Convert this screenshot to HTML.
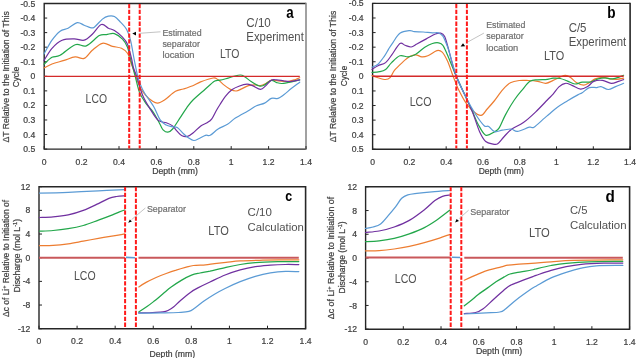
<!DOCTYPE html>
<html><head><meta charset="utf-8"><style>html,body{margin:0;padding:0;background:#fff;}svg{display:block;filter:blur(0.3px);}</style></head>
<body><svg width="637" height="358" viewBox="0 0 637 358" font-family='"Liberation Sans", sans-serif'>
<rect width="637" height="358" fill="#fff"/>
<path d="M306.0,149.1 H44.2 V3.5 H306.0" fill="none" stroke="#262626" stroke-width="1.4"/>
<line x1="306.0" y1="2.8" x2="306.0" y2="149.79999999999998" stroke="#8a8a8a" stroke-width="1.6"/>
<line x1="44.2" y1="149.1" x2="44.2" y2="146.1" stroke="#262626" stroke-width="1"/>
<line x1="81.6" y1="149.1" x2="81.6" y2="146.1" stroke="#262626" stroke-width="1"/>
<line x1="119.0" y1="149.1" x2="119.0" y2="146.1" stroke="#262626" stroke-width="1"/>
<line x1="156.40000000000003" y1="149.1" x2="156.40000000000003" y2="146.1" stroke="#262626" stroke-width="1"/>
<line x1="193.8" y1="149.1" x2="193.8" y2="146.1" stroke="#262626" stroke-width="1"/>
<line x1="231.2" y1="149.1" x2="231.2" y2="146.1" stroke="#262626" stroke-width="1"/>
<line x1="268.6" y1="149.1" x2="268.6" y2="146.1" stroke="#262626" stroke-width="1"/>
<line x1="306.0" y1="149.1" x2="306.0" y2="146.1" stroke="#262626" stroke-width="1"/>
<line x1="44.2" y1="3.5" x2="47.2" y2="3.5" stroke="#262626" stroke-width="1"/>
<line x1="44.2" y1="18.06" x2="47.2" y2="18.06" stroke="#262626" stroke-width="1"/>
<line x1="44.2" y1="32.62" x2="47.2" y2="32.62" stroke="#262626" stroke-width="1"/>
<line x1="44.2" y1="47.17999999999999" x2="47.2" y2="47.17999999999999" stroke="#262626" stroke-width="1"/>
<line x1="44.2" y1="61.739999999999995" x2="47.2" y2="61.739999999999995" stroke="#262626" stroke-width="1"/>
<line x1="44.2" y1="76.3" x2="47.2" y2="76.3" stroke="#262626" stroke-width="1"/>
<line x1="44.2" y1="90.85999999999999" x2="47.2" y2="90.85999999999999" stroke="#262626" stroke-width="1"/>
<line x1="44.2" y1="105.41999999999999" x2="47.2" y2="105.41999999999999" stroke="#262626" stroke-width="1"/>
<line x1="44.2" y1="119.97999999999999" x2="47.2" y2="119.97999999999999" stroke="#262626" stroke-width="1"/>
<line x1="44.2" y1="134.54" x2="47.2" y2="134.54" stroke="#262626" stroke-width="1"/>
<line x1="44.2" y1="149.1" x2="47.2" y2="149.1" stroke="#262626" stroke-width="1"/>
<path d="M630.1,149.3 H372.6 V3.4 H630.1" fill="none" stroke="#262626" stroke-width="1.4"/>
<line x1="630.1" y1="2.7" x2="630.1" y2="150.0" stroke="#262626" stroke-width="1.6"/>
<line x1="372.6" y1="149.3" x2="372.6" y2="146.3" stroke="#262626" stroke-width="1"/>
<line x1="409.3857142857143" y1="149.3" x2="409.3857142857143" y2="146.3" stroke="#262626" stroke-width="1"/>
<line x1="446.1714285714286" y1="149.3" x2="446.1714285714286" y2="146.3" stroke="#262626" stroke-width="1"/>
<line x1="482.9571428571429" y1="149.3" x2="482.9571428571429" y2="146.3" stroke="#262626" stroke-width="1"/>
<line x1="519.7428571428571" y1="149.3" x2="519.7428571428571" y2="146.3" stroke="#262626" stroke-width="1"/>
<line x1="556.5285714285715" y1="149.3" x2="556.5285714285715" y2="146.3" stroke="#262626" stroke-width="1"/>
<line x1="593.3142857142857" y1="149.3" x2="593.3142857142857" y2="146.3" stroke="#262626" stroke-width="1"/>
<line x1="630.1" y1="149.3" x2="630.1" y2="146.3" stroke="#262626" stroke-width="1"/>
<line x1="372.6" y1="3.4" x2="375.6" y2="3.4" stroke="#262626" stroke-width="1"/>
<line x1="372.6" y1="17.99" x2="375.6" y2="17.99" stroke="#262626" stroke-width="1"/>
<line x1="372.6" y1="32.58" x2="375.6" y2="32.58" stroke="#262626" stroke-width="1"/>
<line x1="372.6" y1="47.17" x2="375.6" y2="47.17" stroke="#262626" stroke-width="1"/>
<line x1="372.6" y1="61.76" x2="375.6" y2="61.76" stroke="#262626" stroke-width="1"/>
<line x1="372.6" y1="76.35000000000001" x2="375.6" y2="76.35000000000001" stroke="#262626" stroke-width="1"/>
<line x1="372.6" y1="90.94000000000001" x2="375.6" y2="90.94000000000001" stroke="#262626" stroke-width="1"/>
<line x1="372.6" y1="105.53000000000002" x2="375.6" y2="105.53000000000002" stroke="#262626" stroke-width="1"/>
<line x1="372.6" y1="120.12" x2="375.6" y2="120.12" stroke="#262626" stroke-width="1"/>
<line x1="372.6" y1="134.71" x2="375.6" y2="134.71" stroke="#262626" stroke-width="1"/>
<line x1="372.6" y1="149.3" x2="375.6" y2="149.3" stroke="#262626" stroke-width="1"/>
<path d="M305.6,328.7 H39.0 V186.7 H305.6" fill="none" stroke="#262626" stroke-width="1.4"/>
<line x1="305.6" y1="186.0" x2="305.6" y2="329.4" stroke="#262626" stroke-width="1.6"/>
<line x1="39.0" y1="328.7" x2="39.0" y2="325.7" stroke="#262626" stroke-width="1"/>
<line x1="77.08571428571429" y1="328.7" x2="77.08571428571429" y2="325.7" stroke="#262626" stroke-width="1"/>
<line x1="115.17142857142858" y1="328.7" x2="115.17142857142858" y2="325.7" stroke="#262626" stroke-width="1"/>
<line x1="153.25714285714287" y1="328.7" x2="153.25714285714287" y2="325.7" stroke="#262626" stroke-width="1"/>
<line x1="191.34285714285716" y1="328.7" x2="191.34285714285716" y2="325.7" stroke="#262626" stroke-width="1"/>
<line x1="229.42857142857142" y1="328.7" x2="229.42857142857142" y2="325.7" stroke="#262626" stroke-width="1"/>
<line x1="267.51428571428573" y1="328.7" x2="267.51428571428573" y2="325.7" stroke="#262626" stroke-width="1"/>
<line x1="305.6" y1="328.7" x2="305.6" y2="325.7" stroke="#262626" stroke-width="1"/>
<line x1="39.0" y1="186.7" x2="42.0" y2="186.7" stroke="#262626" stroke-width="1"/>
<line x1="39.0" y1="210.36666666666665" x2="42.0" y2="210.36666666666665" stroke="#262626" stroke-width="1"/>
<line x1="39.0" y1="234.03333333333333" x2="42.0" y2="234.03333333333333" stroke="#262626" stroke-width="1"/>
<line x1="39.0" y1="257.7" x2="42.0" y2="257.7" stroke="#262626" stroke-width="1"/>
<line x1="39.0" y1="281.3666666666667" x2="42.0" y2="281.3666666666667" stroke="#262626" stroke-width="1"/>
<line x1="39.0" y1="305.0333333333333" x2="42.0" y2="305.0333333333333" stroke="#262626" stroke-width="1"/>
<line x1="39.0" y1="328.7" x2="42.0" y2="328.7" stroke="#262626" stroke-width="1"/>
<path d="M629.6,329.2 H365.6 V186.8 H629.6" fill="none" stroke="#262626" stroke-width="1.4"/>
<line x1="629.6" y1="186.10000000000002" x2="629.6" y2="329.9" stroke="#262626" stroke-width="1.6"/>
<line x1="365.6" y1="329.2" x2="365.6" y2="326.2" stroke="#262626" stroke-width="1"/>
<line x1="403.31428571428575" y1="329.2" x2="403.31428571428575" y2="326.2" stroke="#262626" stroke-width="1"/>
<line x1="441.02857142857147" y1="329.2" x2="441.02857142857147" y2="326.2" stroke="#262626" stroke-width="1"/>
<line x1="478.74285714285713" y1="329.2" x2="478.74285714285713" y2="326.2" stroke="#262626" stroke-width="1"/>
<line x1="516.4571428571429" y1="329.2" x2="516.4571428571429" y2="326.2" stroke="#262626" stroke-width="1"/>
<line x1="554.1714285714286" y1="329.2" x2="554.1714285714286" y2="326.2" stroke="#262626" stroke-width="1"/>
<line x1="591.8857142857144" y1="329.2" x2="591.8857142857144" y2="326.2" stroke="#262626" stroke-width="1"/>
<line x1="629.6" y1="329.2" x2="629.6" y2="326.2" stroke="#262626" stroke-width="1"/>
<line x1="365.6" y1="186.8" x2="368.6" y2="186.8" stroke="#262626" stroke-width="1"/>
<line x1="365.6" y1="210.53333333333333" x2="368.6" y2="210.53333333333333" stroke="#262626" stroke-width="1"/>
<line x1="365.6" y1="234.26666666666668" x2="368.6" y2="234.26666666666668" stroke="#262626" stroke-width="1"/>
<line x1="365.6" y1="258.0" x2="368.6" y2="258.0" stroke="#262626" stroke-width="1"/>
<line x1="365.6" y1="281.73333333333335" x2="368.6" y2="281.73333333333335" stroke="#262626" stroke-width="1"/>
<line x1="365.6" y1="305.46666666666664" x2="368.6" y2="305.46666666666664" stroke="#262626" stroke-width="1"/>
<line x1="365.6" y1="329.2" x2="368.6" y2="329.2" stroke="#262626" stroke-width="1"/>
<text x="44.2" y="164.6" font-size="8.6" fill="#3f3f3f" stroke="#3f3f3f" stroke-width="0.22" text-anchor="middle" font-weight="normal" >0</text>
<text x="81.6" y="164.6" font-size="8.6" fill="#3f3f3f" stroke="#3f3f3f" stroke-width="0.22" text-anchor="middle" font-weight="normal" >0.2</text>
<text x="119.0" y="164.6" font-size="8.6" fill="#3f3f3f" stroke="#3f3f3f" stroke-width="0.22" text-anchor="middle" font-weight="normal" >0.4</text>
<text x="156.4" y="164.6" font-size="8.6" fill="#3f3f3f" stroke="#3f3f3f" stroke-width="0.22" text-anchor="middle" font-weight="normal" >0.6</text>
<text x="193.8" y="164.6" font-size="8.6" fill="#3f3f3f" stroke="#3f3f3f" stroke-width="0.22" text-anchor="middle" font-weight="normal" >0.8</text>
<text x="231.2" y="164.6" font-size="8.6" fill="#3f3f3f" stroke="#3f3f3f" stroke-width="0.22" text-anchor="middle" font-weight="normal" >1</text>
<text x="268.6" y="164.6" font-size="8.6" fill="#3f3f3f" stroke="#3f3f3f" stroke-width="0.22" text-anchor="middle" font-weight="normal" >1.2</text>
<text x="306.0" y="164.6" font-size="8.6" fill="#3f3f3f" stroke="#3f3f3f" stroke-width="0.22" text-anchor="middle" font-weight="normal" >1.4</text>
<text x="35.2" y="6.5" font-size="8.6" fill="#3f3f3f" stroke="#3f3f3f" stroke-width="0.22" text-anchor="end" font-weight="normal" >-0.5</text>
<text x="35.2" y="21.1" font-size="8.6" fill="#3f3f3f" stroke="#3f3f3f" stroke-width="0.22" text-anchor="end" font-weight="normal" >-0.4</text>
<text x="35.2" y="35.6" font-size="8.6" fill="#3f3f3f" stroke="#3f3f3f" stroke-width="0.22" text-anchor="end" font-weight="normal" >-0.3</text>
<text x="35.2" y="50.2" font-size="8.6" fill="#3f3f3f" stroke="#3f3f3f" stroke-width="0.22" text-anchor="end" font-weight="normal" >-0.2</text>
<text x="35.2" y="64.7" font-size="8.6" fill="#3f3f3f" stroke="#3f3f3f" stroke-width="0.22" text-anchor="end" font-weight="normal" >-0.1</text>
<text x="35.2" y="79.3" font-size="8.6" fill="#3f3f3f" stroke="#3f3f3f" stroke-width="0.22" text-anchor="end" font-weight="normal" >0</text>
<text x="35.2" y="93.9" font-size="8.6" fill="#3f3f3f" stroke="#3f3f3f" stroke-width="0.22" text-anchor="end" font-weight="normal" >0.1</text>
<text x="35.2" y="108.4" font-size="8.6" fill="#3f3f3f" stroke="#3f3f3f" stroke-width="0.22" text-anchor="end" font-weight="normal" >0.2</text>
<text x="35.2" y="123.0" font-size="8.6" fill="#3f3f3f" stroke="#3f3f3f" stroke-width="0.22" text-anchor="end" font-weight="normal" >0.3</text>
<text x="35.2" y="137.5" font-size="8.6" fill="#3f3f3f" stroke="#3f3f3f" stroke-width="0.22" text-anchor="end" font-weight="normal" >0.4</text>
<text x="35.2" y="152.1" font-size="8.6" fill="#3f3f3f" stroke="#3f3f3f" stroke-width="0.22" text-anchor="end" font-weight="normal" >0.5</text>
<text x="372.6" y="164.9" font-size="8.6" fill="#3f3f3f" stroke="#3f3f3f" stroke-width="0.22" text-anchor="middle" font-weight="normal" >0</text>
<text x="409.4" y="164.9" font-size="8.6" fill="#3f3f3f" stroke="#3f3f3f" stroke-width="0.22" text-anchor="middle" font-weight="normal" >0.2</text>
<text x="446.2" y="164.9" font-size="8.6" fill="#3f3f3f" stroke="#3f3f3f" stroke-width="0.22" text-anchor="middle" font-weight="normal" >0.4</text>
<text x="483.0" y="164.9" font-size="8.6" fill="#3f3f3f" stroke="#3f3f3f" stroke-width="0.22" text-anchor="middle" font-weight="normal" >0.6</text>
<text x="519.7" y="164.9" font-size="8.6" fill="#3f3f3f" stroke="#3f3f3f" stroke-width="0.22" text-anchor="middle" font-weight="normal" >0.8</text>
<text x="556.5" y="164.9" font-size="8.6" fill="#3f3f3f" stroke="#3f3f3f" stroke-width="0.22" text-anchor="middle" font-weight="normal" >1</text>
<text x="593.3" y="164.9" font-size="8.6" fill="#3f3f3f" stroke="#3f3f3f" stroke-width="0.22" text-anchor="middle" font-weight="normal" >1.2</text>
<text x="630.1" y="164.9" font-size="8.6" fill="#3f3f3f" stroke="#3f3f3f" stroke-width="0.22" text-anchor="middle" font-weight="normal" >1.4</text>
<text x="363.6" y="6.4" font-size="8.6" fill="#3f3f3f" stroke="#3f3f3f" stroke-width="0.22" text-anchor="end" font-weight="normal" >-0.5</text>
<text x="363.6" y="21.0" font-size="8.6" fill="#3f3f3f" stroke="#3f3f3f" stroke-width="0.22" text-anchor="end" font-weight="normal" >-0.4</text>
<text x="363.6" y="35.6" font-size="8.6" fill="#3f3f3f" stroke="#3f3f3f" stroke-width="0.22" text-anchor="end" font-weight="normal" >-0.3</text>
<text x="363.6" y="50.2" font-size="8.6" fill="#3f3f3f" stroke="#3f3f3f" stroke-width="0.22" text-anchor="end" font-weight="normal" >-0.2</text>
<text x="363.6" y="64.8" font-size="8.6" fill="#3f3f3f" stroke="#3f3f3f" stroke-width="0.22" text-anchor="end" font-weight="normal" >-0.1</text>
<text x="363.6" y="79.4" font-size="8.6" fill="#3f3f3f" stroke="#3f3f3f" stroke-width="0.22" text-anchor="end" font-weight="normal" >0</text>
<text x="363.6" y="93.9" font-size="8.6" fill="#3f3f3f" stroke="#3f3f3f" stroke-width="0.22" text-anchor="end" font-weight="normal" >0.1</text>
<text x="363.6" y="108.5" font-size="8.6" fill="#3f3f3f" stroke="#3f3f3f" stroke-width="0.22" text-anchor="end" font-weight="normal" >0.2</text>
<text x="363.6" y="123.1" font-size="8.6" fill="#3f3f3f" stroke="#3f3f3f" stroke-width="0.22" text-anchor="end" font-weight="normal" >0.3</text>
<text x="363.6" y="137.7" font-size="8.6" fill="#3f3f3f" stroke="#3f3f3f" stroke-width="0.22" text-anchor="end" font-weight="normal" >0.4</text>
<text x="363.6" y="152.3" font-size="8.6" fill="#3f3f3f" stroke="#3f3f3f" stroke-width="0.22" text-anchor="end" font-weight="normal" >0.5</text>
<text x="39.0" y="343.9" font-size="8.6" fill="#3f3f3f" stroke="#3f3f3f" stroke-width="0.22" text-anchor="middle" font-weight="normal" >0</text>
<text x="77.1" y="343.9" font-size="8.6" fill="#3f3f3f" stroke="#3f3f3f" stroke-width="0.22" text-anchor="middle" font-weight="normal" >0.2</text>
<text x="115.2" y="343.9" font-size="8.6" fill="#3f3f3f" stroke="#3f3f3f" stroke-width="0.22" text-anchor="middle" font-weight="normal" >0.4</text>
<text x="153.3" y="343.9" font-size="8.6" fill="#3f3f3f" stroke="#3f3f3f" stroke-width="0.22" text-anchor="middle" font-weight="normal" >0.6</text>
<text x="191.3" y="343.9" font-size="8.6" fill="#3f3f3f" stroke="#3f3f3f" stroke-width="0.22" text-anchor="middle" font-weight="normal" >0.8</text>
<text x="229.4" y="343.9" font-size="8.6" fill="#3f3f3f" stroke="#3f3f3f" stroke-width="0.22" text-anchor="middle" font-weight="normal" >1</text>
<text x="267.5" y="343.9" font-size="8.6" fill="#3f3f3f" stroke="#3f3f3f" stroke-width="0.22" text-anchor="middle" font-weight="normal" >1.2</text>
<text x="305.6" y="343.9" font-size="8.6" fill="#3f3f3f" stroke="#3f3f3f" stroke-width="0.22" text-anchor="middle" font-weight="normal" >1.4</text>
<text x="30.4" y="189.7" font-size="8.6" fill="#3f3f3f" stroke="#3f3f3f" stroke-width="0.22" text-anchor="end" font-weight="normal" >12</text>
<text x="30.4" y="213.4" font-size="8.6" fill="#3f3f3f" stroke="#3f3f3f" stroke-width="0.22" text-anchor="end" font-weight="normal" >8</text>
<text x="30.4" y="237.0" font-size="8.6" fill="#3f3f3f" stroke="#3f3f3f" stroke-width="0.22" text-anchor="end" font-weight="normal" >4</text>
<text x="30.4" y="260.7" font-size="8.6" fill="#3f3f3f" stroke="#3f3f3f" stroke-width="0.22" text-anchor="end" font-weight="normal" >0</text>
<text x="30.4" y="284.4" font-size="8.6" fill="#3f3f3f" stroke="#3f3f3f" stroke-width="0.22" text-anchor="end" font-weight="normal" >-4</text>
<text x="30.4" y="308.0" font-size="8.6" fill="#3f3f3f" stroke="#3f3f3f" stroke-width="0.22" text-anchor="end" font-weight="normal" >-8</text>
<text x="30.4" y="331.7" font-size="8.6" fill="#3f3f3f" stroke="#3f3f3f" stroke-width="0.22" text-anchor="end" font-weight="normal" >-12</text>
<text x="365.6" y="344.9" font-size="8.6" fill="#3f3f3f" stroke="#3f3f3f" stroke-width="0.22" text-anchor="middle" font-weight="normal" >0</text>
<text x="403.3" y="344.9" font-size="8.6" fill="#3f3f3f" stroke="#3f3f3f" stroke-width="0.22" text-anchor="middle" font-weight="normal" >0.2</text>
<text x="441.0" y="344.9" font-size="8.6" fill="#3f3f3f" stroke="#3f3f3f" stroke-width="0.22" text-anchor="middle" font-weight="normal" >0.4</text>
<text x="478.7" y="344.9" font-size="8.6" fill="#3f3f3f" stroke="#3f3f3f" stroke-width="0.22" text-anchor="middle" font-weight="normal" >0.6</text>
<text x="516.5" y="344.9" font-size="8.6" fill="#3f3f3f" stroke="#3f3f3f" stroke-width="0.22" text-anchor="middle" font-weight="normal" >0.8</text>
<text x="554.2" y="344.9" font-size="8.6" fill="#3f3f3f" stroke="#3f3f3f" stroke-width="0.22" text-anchor="middle" font-weight="normal" >1</text>
<text x="591.9" y="344.9" font-size="8.6" fill="#3f3f3f" stroke="#3f3f3f" stroke-width="0.22" text-anchor="middle" font-weight="normal" >1.2</text>
<text x="629.6" y="344.9" font-size="8.6" fill="#3f3f3f" stroke="#3f3f3f" stroke-width="0.22" text-anchor="middle" font-weight="normal" >1.4</text>
<text x="357.0" y="189.8" font-size="8.6" fill="#3f3f3f" stroke="#3f3f3f" stroke-width="0.22" text-anchor="end" font-weight="normal" >12</text>
<text x="357.0" y="213.5" font-size="8.6" fill="#3f3f3f" stroke="#3f3f3f" stroke-width="0.22" text-anchor="end" font-weight="normal" >8</text>
<text x="357.0" y="237.3" font-size="8.6" fill="#3f3f3f" stroke="#3f3f3f" stroke-width="0.22" text-anchor="end" font-weight="normal" >4</text>
<text x="357.0" y="261.0" font-size="8.6" fill="#3f3f3f" stroke="#3f3f3f" stroke-width="0.22" text-anchor="end" font-weight="normal" >0</text>
<text x="357.0" y="284.7" font-size="8.6" fill="#3f3f3f" stroke="#3f3f3f" stroke-width="0.22" text-anchor="end" font-weight="normal" >-4</text>
<text x="357.0" y="308.5" font-size="8.6" fill="#3f3f3f" stroke="#3f3f3f" stroke-width="0.22" text-anchor="end" font-weight="normal" >-8</text>
<text x="357.0" y="332.2" font-size="8.6" fill="#3f3f3f" stroke="#3f3f3f" stroke-width="0.22" text-anchor="end" font-weight="normal" >-12</text>
<text x="152.2" y="173.6" font-size="8.7" fill="#3f3f3f" stroke="#3f3f3f" stroke-width="0.22" text-anchor="start" font-weight="normal" textLength="45.8" lengthAdjust="spacingAndGlyphs" >Depth (mm)</text>
<text x="478.7" y="173.6" font-size="8.7" fill="#3f3f3f" stroke="#3f3f3f" stroke-width="0.22" text-anchor="start" font-weight="normal" textLength="45.1" lengthAdjust="spacingAndGlyphs" >Depth (mm)</text>
<text x="149.6" y="357.0" font-size="8.7" fill="#3f3f3f" stroke="#3f3f3f" stroke-width="0.22" text-anchor="start" font-weight="normal" textLength="45.5" lengthAdjust="spacingAndGlyphs" >Depth (mm)</text>
<text x="475.9" y="354.0" font-size="8.7" fill="#3f3f3f" stroke="#3f3f3f" stroke-width="0.22" text-anchor="start" font-weight="normal" textLength="46.3" lengthAdjust="spacingAndGlyphs" >Depth (mm)</text>
<text transform="translate(8.7,76.9) rotate(-90)" x="0" y="0" font-size="8.6" fill="#3f3f3f" stroke="#3f3f3f" stroke-width="0.22" text-anchor="middle" textLength="131.4" lengthAdjust="spacingAndGlyphs">ΔT Relative to the Initiation of This</text>
<text transform="translate(19.3,76.9) rotate(-90)" x="0" y="0" font-size="8.6" fill="#3f3f3f" stroke="#3f3f3f" stroke-width="0.22" text-anchor="middle" textLength="20.5" lengthAdjust="spacingAndGlyphs">Cycle</text>
<text transform="translate(335.6,76.5) rotate(-90)" x="0" y="0" font-size="8.6" fill="#3f3f3f" stroke="#3f3f3f" stroke-width="0.22" text-anchor="middle" textLength="131.4" lengthAdjust="spacingAndGlyphs">ΔT Relative to the Initiation of This</text>
<text transform="translate(346.5,76.0) rotate(-90)" x="0" y="0" font-size="8.6" fill="#3f3f3f" stroke="#3f3f3f" stroke-width="0.22" text-anchor="middle" textLength="20.5" lengthAdjust="spacingAndGlyphs">Cycle</text>
<text transform="translate(8.5,258.5) rotate(-90)" x="0" y="0" font-size="8.6" fill="#3f3f3f" stroke="#3f3f3f" stroke-width="0.22" text-anchor="middle" textLength="117" lengthAdjust="spacingAndGlyphs">Δc of Li<tspan font-size="5.5" dy="-3">+</tspan><tspan dy="3"> Relative to Initiation of</tspan></text>
<text transform="translate(19.8,255.7) rotate(-90)" x="0" y="0" font-size="8.6" fill="#3f3f3f" stroke="#3f3f3f" stroke-width="0.22" text-anchor="middle" textLength="73.5" lengthAdjust="spacingAndGlyphs">Discharge (mol L<tspan font-size="5.5" dy="-3">-1</tspan><tspan dy="3">)</tspan></text>
<text transform="translate(333.9,258.0) rotate(-90)" x="0" y="0" font-size="8.6" fill="#3f3f3f" stroke="#3f3f3f" stroke-width="0.22" text-anchor="middle" textLength="122.5" lengthAdjust="spacingAndGlyphs">Δc of Li<tspan font-size="5.5" dy="-3">+</tspan><tspan dy="3"> Relative to Initiation of</tspan></text>
<text transform="translate(345.3,257.4) rotate(-90)" x="0" y="0" font-size="8.6" fill="#3f3f3f" stroke="#3f3f3f" stroke-width="0.22" text-anchor="middle" textLength="72.2" lengthAdjust="spacingAndGlyphs">Discharge (mol L<tspan font-size="5.5" dy="-3">-1</tspan><tspan dy="3">)</tspan></text>
<text x="286.2" y="18.1" font-size="16" fill="#000" text-anchor="start" font-weight="bold" textLength="7.4" lengthAdjust="spacingAndGlyphs" >a</text>
<text x="607.3" y="17.6" font-size="16" fill="#000" text-anchor="start" font-weight="bold" textLength="8.3" lengthAdjust="spacingAndGlyphs" >b</text>
<text x="285.3" y="201.3" font-size="15" fill="#000" text-anchor="start" font-weight="bold" textLength="6.9" lengthAdjust="spacingAndGlyphs" >c</text>
<text x="605.4" y="201.6" font-size="16" fill="#000" text-anchor="start" font-weight="bold" textLength="9.3" lengthAdjust="spacingAndGlyphs" >d</text>
<text x="246.3" y="26.8" font-size="12.2" fill="#505050" text-anchor="start" font-weight="normal" textLength="24.5" lengthAdjust="spacingAndGlyphs" >C/10</text>
<text x="246.3" y="41.1" font-size="12.2" fill="#505050" text-anchor="start" font-weight="normal" textLength="57.5" lengthAdjust="spacingAndGlyphs" >Experiment</text>
<text x="568.7" y="31.9" font-size="12.2" fill="#505050" text-anchor="start" font-weight="normal" textLength="17.8" lengthAdjust="spacingAndGlyphs" >C/5</text>
<text x="568.7" y="46.1" font-size="12.2" fill="#505050" text-anchor="start" font-weight="normal" textLength="57.6" lengthAdjust="spacingAndGlyphs" >Experiment</text>
<text x="247.6" y="216.0" font-size="11.6" fill="#505050" text-anchor="start" font-weight="normal" textLength="24.3" lengthAdjust="spacingAndGlyphs" >C/10</text>
<text x="247.6" y="230.6" font-size="11.6" fill="#505050" text-anchor="start" font-weight="normal" textLength="56.2" lengthAdjust="spacingAndGlyphs" >Calculation</text>
<text x="569.9" y="214.2" font-size="11.6" fill="#505050" text-anchor="start" font-weight="normal" textLength="17.5" lengthAdjust="spacingAndGlyphs" >C/5</text>
<text x="569.9" y="228.9" font-size="11.6" fill="#505050" text-anchor="start" font-weight="normal" textLength="56.6" lengthAdjust="spacingAndGlyphs" >Calculation</text>
<text x="220.0" y="57.5" font-size="12.6" fill="#505050" text-anchor="start" font-weight="normal" textLength="19.4" lengthAdjust="spacingAndGlyphs" >LTO</text>
<text x="85.6" y="103.0" font-size="12.2" fill="#505050" text-anchor="start" font-weight="normal" textLength="21.4" lengthAdjust="spacingAndGlyphs" >LCO</text>
<text x="544.0" y="60.1" font-size="12.2" fill="#505050" text-anchor="start" font-weight="normal" textLength="20.2" lengthAdjust="spacingAndGlyphs" >LTO</text>
<text x="409.7" y="105.7" font-size="12.2" fill="#505050" text-anchor="start" font-weight="normal" textLength="21.9" lengthAdjust="spacingAndGlyphs" >LCO</text>
<text x="208.3" y="234.7" font-size="12.0" fill="#505050" text-anchor="start" font-weight="normal" textLength="20.5" lengthAdjust="spacingAndGlyphs" >LTO</text>
<text x="74.0" y="280.2" font-size="12.2" fill="#505050" text-anchor="start" font-weight="normal" textLength="21.6" lengthAdjust="spacingAndGlyphs" >LCO</text>
<text x="529.0" y="237.1" font-size="12.2" fill="#505050" text-anchor="start" font-weight="normal" textLength="20.8" lengthAdjust="spacingAndGlyphs" >LTO</text>
<text x="394.8" y="282.7" font-size="12.0" fill="#505050" text-anchor="start" font-weight="normal" textLength="21.8" lengthAdjust="spacingAndGlyphs" >LCO</text>
<text x="162.4" y="35.5" font-size="9.2" fill="#707070" stroke="#707070" stroke-width="0.22" text-anchor="start" font-weight="normal" textLength="39.2" lengthAdjust="spacingAndGlyphs" >Estimated</text>
<text x="162.4" y="46.8" font-size="9.2" fill="#707070" stroke="#707070" stroke-width="0.22" text-anchor="start" font-weight="normal" textLength="37.6" lengthAdjust="spacingAndGlyphs" >separator</text>
<text x="162.4" y="58.1" font-size="9.2" fill="#707070" stroke="#707070" stroke-width="0.22" text-anchor="start" font-weight="normal" textLength="32.1" lengthAdjust="spacingAndGlyphs" >location</text>
<text x="486.2" y="27.5" font-size="9.2" fill="#707070" stroke="#707070" stroke-width="0.22" text-anchor="start" font-weight="normal" textLength="39.1" lengthAdjust="spacingAndGlyphs" >Estimated</text>
<text x="486.2" y="39.0" font-size="9.2" fill="#707070" stroke="#707070" stroke-width="0.22" text-anchor="start" font-weight="normal" textLength="37.6" lengthAdjust="spacingAndGlyphs" >separator</text>
<text x="486.2" y="50.6" font-size="9.2" fill="#707070" stroke="#707070" stroke-width="0.22" text-anchor="start" font-weight="normal" textLength="32.1" lengthAdjust="spacingAndGlyphs" >location</text>
<text x="146.9" y="211.8" font-size="9.6" fill="#707070" stroke="#707070" stroke-width="0.22" text-anchor="start" font-weight="normal" textLength="39.0" lengthAdjust="spacingAndGlyphs" >Separator</text>
<text x="470.3" y="214.6" font-size="9.6" fill="#707070" stroke="#707070" stroke-width="0.22" text-anchor="start" font-weight="normal" textLength="39.3" lengthAdjust="spacingAndGlyphs" >Separator</text>
<path d="M44.0,68.0 C45.3,67.3 48.6,65.3 52.0,64.0 C55.4,62.7 60.2,61.6 64.1,60.4 C68.0,59.2 71.8,57.2 75.2,56.9 C78.6,56.6 81.4,59.5 84.2,58.4 C87.0,57.3 89.3,52.8 92.3,50.3 C95.3,47.8 99.1,44.0 102.4,43.3 C105.8,42.6 109.2,45.5 112.4,46.3 C115.6,47.1 119.0,47.1 121.5,48.3 C124.0,49.5 125.8,50.6 127.5,53.3 C129.2,56.0 130.3,61.3 131.5,64.4 C132.7,67.5 133.6,69.4 134.5,72.0 C135.4,74.6 135.9,77.2 137.0,80.0 C138.1,82.8 139.6,86.5 141.0,89.0 C142.4,91.5 143.9,93.3 145.7,95.3 C147.5,97.3 150.0,99.5 152.0,100.8 C154.0,102.1 155.4,103.2 157.5,103.1 C159.6,103.0 161.5,102.0 164.5,100.0 C167.5,98.0 172.3,93.1 175.5,91.3 C178.7,89.5 180.5,89.9 183.4,89.0 C186.3,88.1 189.9,87.0 192.8,85.8 C195.7,84.6 197.2,83.2 200.6,81.9 C204.0,80.6 210.3,78.4 213.2,78.0 C216.1,77.6 216.1,78.4 217.9,79.6 C219.7,80.8 222.0,83.4 224.2,85.1 C226.3,86.8 228.8,88.6 230.8,89.6 C232.8,90.6 234.4,91.1 236.2,91.0 C238.0,90.9 239.6,89.8 241.6,88.9 C243.6,88.0 246.2,86.3 248.4,85.6 C250.7,84.9 253.1,84.9 255.1,84.9 C257.1,84.9 258.7,85.8 260.5,85.6 C262.3,85.4 264.1,84.4 265.9,83.5 C267.7,82.6 269.3,80.7 271.3,80.2 C273.3,79.8 275.4,80.6 278.1,80.8 C280.8,81.0 284.6,81.7 287.5,81.5 C290.4,81.3 293.6,80.1 295.6,79.5 C297.6,78.9 299.0,78.0 299.7,77.7" fill="none" stroke="#ed7d31" stroke-width="1.2" stroke-linejoin="round" stroke-linecap="round"/>
<path d="M44.0,64.2 C45.3,63.1 49.3,58.8 52.0,57.3 C54.7,55.8 56.2,57.4 60.1,55.3 C64.0,53.2 70.8,46.3 75.2,44.7 C79.6,43.1 82.3,47.4 86.3,45.9 C90.3,44.4 95.9,37.5 99.3,35.6 C102.7,33.7 103.9,34.9 106.4,34.6 C108.9,34.3 111.7,32.8 114.4,33.6 C117.1,34.4 120.3,36.9 122.5,39.2 C124.7,41.5 126.1,43.8 127.5,47.3 C128.9,50.8 130.0,56.9 130.9,60.4 C131.8,63.9 132.3,65.3 133.0,68.0 C133.7,70.7 134.1,72.3 135.2,76.3 C136.3,80.3 137.7,87.6 139.4,92.1 C141.2,96.6 143.3,99.7 145.7,103.1 C148.0,106.5 151.1,109.0 153.5,112.5 C155.9,116.0 158.4,121.4 160.0,124.3 C161.6,127.2 161.8,128.5 163.1,129.8 C164.4,131.1 166.2,132.3 167.8,132.2 C169.4,132.1 170.5,131.5 172.6,129.0 C174.7,126.5 178.1,120.8 180.4,117.3 C182.8,113.8 184.6,110.7 186.7,107.8 C188.8,104.9 189.9,103.1 193.0,100.0 C196.1,96.9 201.8,92.2 205.4,89.0 C209.0,85.8 212.4,82.6 214.8,81.1 C217.2,79.6 217.8,80.7 220.0,80.2 C222.2,79.7 225.8,78.7 228.1,78.1 C230.3,77.5 231.5,76.9 233.5,76.4 C235.5,75.9 238.5,75.0 240.3,75.0 C242.1,75.0 242.5,75.3 244.3,76.4 C246.1,77.5 248.6,79.9 251.1,81.5 C253.6,83.1 256.9,85.4 259.2,86.0 C261.4,86.6 262.6,85.8 264.6,84.9 C266.6,84.0 269.3,80.8 271.3,80.4 C273.3,80.0 274.9,82.1 276.7,82.6 C278.5,83.1 279.9,83.6 282.1,83.5 C284.4,83.4 287.3,82.8 290.2,82.2 C293.1,81.6 298.1,80.3 299.7,79.9" fill="none" stroke="#22a74a" stroke-width="1.2" stroke-linejoin="round" stroke-linecap="round"/>
<path d="M44.0,60.4 C45.3,58.4 49.0,51.7 52.0,48.3 C55.0,44.9 58.4,41.8 62.1,40.2 C65.8,38.6 70.5,38.8 74.2,38.8 C77.9,38.8 81.2,41.0 84.2,40.2 C87.2,39.4 89.5,36.8 92.3,34.2 C95.1,31.6 98.6,25.5 101.3,24.5 C104.0,23.5 106.2,27.2 108.4,28.2 C110.6,29.2 112.1,29.1 114.4,30.6 C116.8,32.1 120.3,34.9 122.5,37.2 C124.7,39.5 126.0,40.8 127.5,44.3 C129.0,47.8 130.5,54.4 131.5,58.4 C132.5,62.4 132.6,65.0 133.5,68.0 C134.4,71.0 135.2,71.8 136.7,76.3 C138.2,80.8 140.3,89.8 142.6,95.3 C144.9,100.8 147.8,105.2 150.4,109.4 C153.0,113.6 155.7,118.2 158.3,120.4 C161.0,122.6 163.9,121.9 166.3,122.8 C168.7,123.7 170.8,124.5 172.6,125.9 C174.4,127.3 175.7,129.8 177.3,131.4 C178.9,133.1 180.3,135.0 182.0,135.8 C183.7,136.6 185.7,136.9 187.5,136.4 C189.3,135.9 190.8,134.8 193.0,133.0 C195.2,131.2 198.5,127.6 200.8,125.9 C203.2,124.2 205.3,124.0 207.1,122.8 C208.9,121.6 210.2,120.9 211.8,118.8 C213.4,116.7 215.1,112.6 216.5,110.2 C217.9,107.8 218.5,106.8 220.0,104.5 C221.5,102.2 223.4,98.9 225.4,96.4 C227.4,93.9 229.9,91.3 232.2,89.6 C234.4,87.9 236.4,87.1 238.9,86.2 C241.4,85.3 244.8,84.3 247.0,84.2 C249.2,84.1 250.2,84.8 252.4,85.6 C254.7,86.4 258.2,89.3 260.5,89.3 C262.8,89.3 264.1,87.1 265.9,85.6 C267.7,84.1 269.5,81.2 271.3,80.2 C273.1,79.2 274.7,79.8 276.7,79.9 C278.7,80.0 281.2,80.5 283.5,80.8 C285.8,81.1 287.5,81.7 290.2,81.5 C292.9,81.3 298.1,80.2 299.7,79.9" fill="none" stroke="#7030a0" stroke-width="1.2" stroke-linejoin="round" stroke-linecap="round"/>
<path d="M44.0,54.0 C45.3,51.7 49.3,44.0 52.0,40.2 C54.7,36.4 57.4,33.2 60.1,31.2 C62.8,29.2 65.2,29.6 68.1,28.2 C70.9,26.8 74.5,23.2 77.2,22.7 C79.9,22.2 82.0,24.4 84.2,25.2 C86.4,26.0 88.6,27.3 90.3,27.6 C92.0,27.9 92.3,28.6 94.3,27.2 C96.3,25.8 100.1,21.0 102.4,19.1 C104.8,17.2 106.4,16.5 108.4,16.1 C110.4,15.7 112.4,15.5 114.4,16.5 C116.4,17.5 118.5,20.0 120.5,22.1 C122.5,24.2 124.8,26.2 126.5,29.2 C128.2,32.2 129.2,35.1 130.5,40.2 C131.8,45.3 133.1,54.0 134.3,60.0 C135.5,66.0 136.6,72.0 137.7,76.3 C138.8,80.6 139.9,83.2 141.0,86.0 C142.1,88.8 142.4,89.6 144.5,93.0 C146.6,96.4 150.9,101.9 153.5,106.3 C156.1,110.7 157.9,116.5 160.0,119.6 C162.1,122.7 164.3,123.9 166.3,125.1 C168.3,126.3 170.0,126.3 171.8,126.7 C173.6,127.1 175.4,126.3 177.3,127.5 C179.2,128.7 181.7,132.1 183.5,133.8 C185.3,135.5 186.6,136.6 188.3,137.7 C190.0,138.8 192.0,140.4 193.8,140.5 C195.6,140.6 197.2,139.4 199.2,138.5 C201.1,137.6 203.7,135.8 205.5,135.3 C207.3,134.8 208.1,136.4 210.2,135.3 C212.3,134.2 215.2,130.8 218.1,129.0 C221.0,127.2 224.6,126.1 227.5,124.3 C230.4,122.5 232.0,120.3 235.4,118.1 C238.8,115.9 244.4,113.0 247.9,111.0 C251.4,109.0 253.7,107.1 256.5,105.8 C259.3,104.5 262.1,104.3 264.6,103.1 C267.1,101.9 269.1,99.2 271.3,98.4 C273.6,97.6 276.1,99.0 278.1,98.4 C280.1,97.8 281.2,96.7 283.5,95.0 C285.8,93.3 288.9,90.4 291.6,88.3 C294.3,86.2 298.4,83.2 299.7,82.2" fill="none" stroke="#5b9bd5" stroke-width="1.2" stroke-linejoin="round" stroke-linecap="round"/>
<path d="M372.0,75.5 C373.0,75.9 375.7,77.0 378.0,77.7 C380.3,78.4 383.6,79.5 385.6,79.5 C387.6,79.5 388.6,79.2 390.1,77.7 C391.6,76.2 392.6,72.7 394.6,70.2 C396.6,67.7 399.7,64.9 402.2,62.6 C404.7,60.3 407.4,57.9 409.7,56.6 C412.0,55.3 413.8,54.8 415.8,54.8 C417.8,54.8 419.8,56.7 421.8,56.9 C423.8,57.1 425.3,56.8 427.8,55.8 C430.3,54.8 434.5,51.2 436.9,50.6 C439.3,50.0 440.4,50.4 442.2,52.1 C444.0,53.9 445.9,57.6 447.5,61.1 C449.1,64.6 450.8,69.9 452.0,73.2 C453.2,76.5 453.9,78.3 455.0,81.0 C456.1,83.7 456.8,86.1 458.5,89.6 C460.2,93.0 462.8,98.2 465.1,101.7 C467.5,105.2 469.9,108.4 472.6,110.7 C475.3,113.0 478.7,115.7 481.1,115.4 C483.5,115.1 485.0,111.4 487.2,109.0 C489.4,106.6 491.6,104.2 494.2,101.0 C496.8,97.8 500.1,92.6 502.8,89.6 C505.5,86.6 507.6,84.3 510.4,82.8 C513.2,81.3 516.4,80.9 519.4,80.5 C522.4,80.1 525.5,80.4 528.5,80.5 C531.5,80.6 534.6,80.8 537.5,81.3 C540.4,81.8 543.2,83.4 545.8,83.3 C548.4,83.2 550.7,81.5 553.1,80.4 C555.5,79.4 558.2,77.8 560.3,77.0 C562.3,76.2 563.7,75.2 565.4,75.3 C567.1,75.4 568.7,76.2 570.5,77.4 C572.3,78.6 574.1,81.2 576.3,82.5 C578.5,83.8 581.4,85.2 583.6,85.2 C585.8,85.2 587.5,83.5 589.4,82.5 C591.3,81.5 593.0,79.8 595.2,78.9 C597.4,78.1 600.1,77.4 602.5,77.4 C604.9,77.4 607.4,78.6 609.8,78.9 C612.2,79.2 614.7,79.4 617.0,79.3 C619.3,79.2 622.5,78.4 623.6,78.2" fill="none" stroke="#ed7d31" stroke-width="1.2" stroke-linejoin="round" stroke-linecap="round"/>
<path d="M372.0,72.5 C373.2,72.4 377.2,72.2 379.5,71.7 C381.8,71.2 383.6,70.9 385.6,69.4 C387.6,67.9 389.2,64.9 391.6,62.6 C394.0,60.3 397.1,56.8 399.9,55.8 C402.7,54.8 405.5,57.1 408.2,56.9 C410.9,56.6 413.0,55.9 415.8,54.3 C418.6,52.7 422.0,49.0 424.8,47.2 C427.6,45.4 430.1,44.2 432.4,43.5 C434.7,42.8 436.6,42.5 438.4,42.8 C440.1,43.1 441.4,43.2 442.9,45.3 C444.4,47.3 445.6,50.7 447.5,55.1 C449.4,59.5 452.8,68.2 454.3,71.7 C455.8,75.2 454.5,72.2 456.3,76.2 C458.1,80.2 462.5,89.9 465.1,95.6 C467.7,101.3 469.9,105.8 472.1,110.6 C474.3,115.4 475.8,120.1 478.1,124.2 C480.4,128.3 482.9,133.9 485.7,135.2 C488.5,136.4 492.4,132.9 494.7,131.7 C496.9,130.5 497.4,130.7 499.2,127.9 C501.0,125.1 502.8,119.8 505.3,115.1 C507.8,110.4 511.4,104.2 514.3,100.0 C517.2,95.8 519.9,92.7 522.5,89.6 C525.1,86.5 527.5,82.9 530.0,81.3 C532.5,79.7 534.6,80.1 537.5,79.8 C540.4,79.5 544.7,79.6 547.3,79.3 C549.9,79.0 550.9,78.3 553.1,78.2 C555.3,78.1 557.9,78.0 560.3,78.5 C562.7,79.0 565.2,80.2 567.6,81.1 C570.0,82.0 572.5,83.8 574.9,84.0 C577.3,84.2 579.5,82.6 582.2,82.2 C584.9,81.8 588.2,82.3 590.9,81.8 C593.5,81.2 595.7,79.6 598.1,78.9 C600.5,78.2 603.0,77.9 605.4,77.9 C607.8,77.9 609.7,79.3 612.7,78.9 C615.7,78.5 621.8,75.9 623.6,75.3" fill="none" stroke="#22a74a" stroke-width="1.2" stroke-linejoin="round" stroke-linecap="round"/>
<path d="M372.0,69.4 C373.0,68.8 375.7,66.8 378.0,65.7 C380.3,64.6 383.3,64.4 385.6,62.6 C387.9,60.8 389.2,58.3 391.6,55.1 C394.0,51.9 397.7,45.1 399.9,43.5 C402.1,41.9 403.1,44.7 405.0,45.3 C406.9,45.9 409.1,47.2 411.2,47.0 C413.2,46.8 414.8,45.1 417.3,43.8 C419.8,42.4 423.3,40.5 426.3,38.9 C429.3,37.3 433.0,35.0 435.4,34.0 C437.8,33.0 439.2,32.8 440.7,33.2 C442.2,33.6 443.4,34.2 444.5,36.2 C445.6,38.2 446.5,41.9 447.5,45.3 C448.5,48.7 449.1,51.5 450.5,56.6 C451.9,61.8 453.3,68.7 456.2,76.2 C459.1,83.7 465.2,95.2 468.1,101.7 C471.0,108.2 471.7,110.1 473.6,115.1 C475.5,120.1 477.6,127.3 479.6,131.7 C481.6,136.1 483.4,139.4 485.7,141.5 C488.0,143.6 491.2,143.7 493.2,144.1 C495.2,144.5 495.9,145.0 497.7,143.8 C499.5,142.6 501.5,139.4 503.8,137.0 C506.1,134.6 508.0,131.8 511.3,129.4 C514.6,127.0 519.4,125.5 523.4,122.6 C527.4,119.7 531.5,115.9 535.5,112.1 C539.5,108.3 544.4,103.0 547.3,100.0 C550.2,97.0 551.2,96.4 553.1,94.2 C555.0,92.0 556.9,88.7 558.9,86.9 C560.9,85.1 563.2,83.5 565.4,83.3 C567.6,83.0 569.5,84.4 572.0,85.4 C574.5,86.4 578.0,89.0 580.7,89.1 C583.4,89.2 585.8,87.5 588.0,86.2 C590.2,84.9 591.4,82.4 593.8,81.4 C596.2,80.4 599.6,80.1 602.5,80.4 C605.4,80.7 608.5,83.1 611.2,83.3 C613.9,83.5 616.4,82.0 618.5,81.4 C620.6,80.8 622.8,79.9 623.6,79.6" fill="none" stroke="#7030a0" stroke-width="1.2" stroke-linejoin="round" stroke-linecap="round"/>
<path d="M372.0,67.2 C373.0,66.7 376.0,66.0 378.0,64.2 C380.0,62.4 382.3,59.1 384.1,56.6 C385.9,54.1 387.1,51.5 388.6,49.1 C390.1,46.7 391.2,44.9 393.1,42.3 C395.0,39.6 397.1,35.2 399.9,33.2 C402.7,31.3 407.3,30.9 409.7,30.6 C412.1,30.4 412.0,31.5 414.3,31.7 C416.6,31.9 420.3,31.8 423.3,32.0 C426.3,32.2 429.9,32.8 432.4,32.9 C434.9,33.0 436.6,32.3 438.4,32.9 C440.1,33.5 441.4,33.9 442.9,36.2 C444.4,38.5 446.2,43.4 447.5,46.8 C448.8,50.2 449.0,51.7 450.5,56.6 C452.0,61.5 453.8,69.2 456.5,76.2 C459.2,83.2 463.4,92.2 466.6,98.6 C469.8,105.0 472.8,110.0 475.7,114.5 C478.6,119.0 482.0,123.7 484.2,125.7 C486.4,127.7 486.9,125.4 488.7,126.4 C490.4,127.4 492.4,131.1 494.7,131.7 C497.0,132.3 499.5,130.6 502.3,130.2 C505.1,129.8 508.8,128.8 511.3,129.0 C513.8,129.2 514.4,131.7 517.4,131.4 C520.4,131.1 526.6,127.9 529.4,127.2 C532.2,126.5 531.5,128.7 534.0,127.2 C536.5,125.7 542.0,120.2 544.5,118.1 C547.0,116.0 546.6,116.3 548.7,114.5 C550.9,112.7 554.2,109.5 557.4,107.2 C560.5,104.9 564.2,102.8 567.6,100.7 C571.0,98.7 575.4,96.2 577.8,94.9 C580.2,93.6 580.3,93.9 582.2,92.7 C584.1,91.5 587.0,88.4 589.4,87.6 C591.8,86.8 594.8,87.8 596.7,87.6 C598.6,87.4 599.1,86.3 601.0,86.6 C602.9,86.9 605.9,89.5 608.3,89.5 C610.7,89.5 613.0,87.6 615.6,86.6 C618.2,85.6 622.3,83.8 623.6,83.3" fill="none" stroke="#5b9bd5" stroke-width="1.2" stroke-linejoin="round" stroke-linecap="round"/>
<path d="M39.5,245.7 C41.8,245.6 48.3,245.7 53.1,245.4 C57.9,245.1 63.2,244.5 68.2,243.8 C73.2,243.1 78.3,242.0 83.3,241.1 C88.3,240.2 93.4,239.3 98.4,238.4 C103.4,237.5 109.1,236.6 113.5,235.8 C117.9,235.1 122.9,234.2 124.8,233.9" fill="none" stroke="#ed7d31" stroke-width="1.25" stroke-linejoin="round" stroke-linecap="round"/>
<path d="M138.8,286.9 C140.0,286.1 143.2,284.0 146.1,282.4 C149.0,280.8 152.8,279.0 156.1,277.5 C159.4,276.0 162.8,274.7 166.2,273.5 C169.5,272.3 172.8,271.2 176.2,270.2 C179.5,269.1 183.4,268.0 186.3,267.2 C189.2,266.4 190.2,265.9 193.4,265.5 C196.6,265.1 202.0,265.1 205.5,264.8 C209.0,264.5 211.1,264.0 214.5,263.6 C217.9,263.2 221.7,262.8 226.0,262.3 C230.3,261.9 234.1,261.2 240.2,260.9 C246.3,260.5 253.0,260.4 262.8,260.2 C272.6,260.0 292.8,259.9 298.8,259.8" fill="none" stroke="#ed7d31" stroke-width="1.25" stroke-linejoin="round" stroke-linecap="round"/>
<path d="M39.5,231.1 C41.8,231.0 48.3,230.9 53.1,230.5 C57.9,230.1 63.2,229.5 68.2,228.7 C73.2,227.9 78.3,226.9 83.3,225.5 C88.3,224.1 93.9,221.8 98.4,220.2 C102.9,218.6 107.0,217.1 110.5,215.7 C114.0,214.3 117.1,212.8 119.5,211.9 C121.9,211.0 123.9,210.3 124.8,210.0" fill="none" stroke="#22a74a" stroke-width="1.25" stroke-linejoin="round" stroke-linecap="round"/>
<path d="M138.8,312.0 C140.2,311.1 144.3,308.5 147.0,306.6 C149.7,304.7 152.3,302.6 155.0,300.5 C157.7,298.4 160.3,296.0 163.0,293.8 C165.7,291.6 168.1,289.3 171.2,287.1 C174.2,284.9 177.9,282.4 181.3,280.4 C184.7,278.4 188.4,276.4 191.5,275.2 C194.6,274.0 196.9,273.7 200.0,273.0 C203.1,272.3 205.7,272.1 210.0,271.2 C214.3,270.2 221.0,268.4 226.0,267.3 C231.0,266.2 235.3,265.3 240.2,264.5 C245.1,263.7 249.0,263.2 255.3,262.7 C261.6,262.2 270.6,261.9 277.9,261.7 C285.1,261.5 295.3,261.5 298.8,261.5" fill="none" stroke="#22a74a" stroke-width="1.25" stroke-linejoin="round" stroke-linecap="round"/>
<path d="M39.5,217.5 C41.8,217.4 48.3,217.3 53.1,216.9 C57.9,216.5 63.2,216.0 68.2,214.9 C73.2,213.8 78.3,212.3 83.3,210.4 C88.3,208.5 94.1,205.6 98.4,203.6 C102.7,201.6 105.9,199.5 108.9,198.3 C111.9,197.1 113.8,196.9 116.5,196.5 C119.2,196.1 123.4,195.9 124.8,195.8" fill="none" stroke="#7030a0" stroke-width="1.25" stroke-linejoin="round" stroke-linecap="round"/>
<path d="M138.8,312.9 C141.1,312.8 148.6,312.7 152.6,312.5 C156.6,312.3 160.4,312.2 163.0,311.9 C165.6,311.6 166.2,311.4 168.0,310.5 C169.8,309.6 171.7,308.5 173.8,306.8 C175.9,305.1 177.7,302.9 180.5,300.5 C183.3,298.1 187.5,294.5 190.4,292.4 C193.3,290.3 194.6,289.6 197.9,287.9 C201.2,286.2 205.5,284.1 210.0,282.0 C214.5,279.9 220.1,277.0 225.1,275.0 C230.1,273.0 235.2,271.3 240.2,269.9 C245.2,268.5 250.3,267.4 255.3,266.6 C260.3,265.8 265.4,265.5 270.4,265.1 C275.4,264.8 280.8,264.6 285.5,264.5 C290.2,264.4 296.6,264.6 298.8,264.6" fill="none" stroke="#7030a0" stroke-width="1.25" stroke-linejoin="round" stroke-linecap="round"/>
<path d="M39.5,193.1 C44.3,193.0 58.4,192.7 68.2,192.3 C78.0,191.9 89.0,191.2 98.4,190.8 C107.8,190.4 120.4,189.8 124.8,189.6" fill="none" stroke="#5b9bd5" stroke-width="1.25" stroke-linejoin="round" stroke-linecap="round"/>
<path d="M138.8,313.2 C142.4,313.1 153.6,313.0 160.2,312.9 C166.8,312.8 173.5,312.8 178.3,312.5 C183.1,312.2 186.1,312.2 188.9,311.4 C191.7,310.6 192.4,309.6 194.9,307.9 C197.4,306.2 200.7,303.4 204.0,301.1 C207.3,298.8 211.0,296.4 214.5,294.3 C218.0,292.2 220.8,290.6 225.1,288.5 C229.4,286.4 235.2,283.7 240.2,281.7 C245.2,279.7 250.3,277.9 255.3,276.4 C260.3,274.9 265.4,273.7 270.4,272.9 C275.4,272.1 280.8,271.6 285.5,271.4 C290.2,271.2 296.6,271.6 298.8,271.6" fill="none" stroke="#5b9bd5" stroke-width="1.25" stroke-linejoin="round" stroke-linecap="round"/>
<path d="M365.5,250.9 C367.8,250.8 374.3,250.9 379.1,250.6 C383.9,250.3 389.2,249.7 394.2,249.0 C399.2,248.3 404.3,247.5 409.3,246.4 C414.3,245.3 419.4,244.0 424.4,242.6 C429.4,241.2 435.2,239.5 439.5,238.1 C443.8,236.7 448.2,234.9 450.0,234.3" fill="none" stroke="#ed7d31" stroke-width="1.25" stroke-linejoin="round" stroke-linecap="round"/>
<path d="M464.3,280.2 C465.4,279.7 468.7,278.2 471.1,277.1 C473.5,276.0 475.6,275.0 478.6,273.8 C481.6,272.6 485.4,271.0 489.2,269.9 C493.0,268.8 498.2,267.7 501.3,266.9 C504.4,266.1 505.5,265.6 508.0,265.2 C510.5,264.8 512.5,264.6 516.4,264.3 C520.3,264.0 525.7,263.8 531.5,263.4 C537.3,263.0 544.1,262.3 551.1,261.8 C558.1,261.3 561.8,260.6 573.7,260.3 C585.7,260.0 614.6,259.9 622.8,259.8" fill="none" stroke="#ed7d31" stroke-width="1.25" stroke-linejoin="round" stroke-linecap="round"/>
<path d="M365.5,241.6 C367.8,241.5 374.3,241.3 379.1,240.8 C383.9,240.3 389.2,239.6 394.2,238.4 C399.2,237.2 404.3,235.7 409.3,233.9 C414.3,232.1 419.9,229.9 424.4,227.6 C428.9,225.3 432.2,223.1 436.5,220.2 C440.8,217.3 447.8,211.7 450.0,210.0" fill="none" stroke="#22a74a" stroke-width="1.25" stroke-linejoin="round" stroke-linecap="round"/>
<path d="M464.3,305.8 C465.4,304.9 468.7,302.4 471.1,300.5 C473.5,298.6 475.6,296.6 478.6,294.3 C481.6,292.0 486.3,288.9 489.2,286.8 C492.1,284.7 493.5,283.5 496.0,281.8 C498.5,280.1 502.0,278.2 504.3,276.9 C506.6,275.6 508.0,274.7 510.0,274.0 C512.0,273.3 512.8,273.3 516.4,272.6 C520.0,271.9 528.2,270.6 531.5,270.0 C534.8,269.4 532.7,269.6 536.0,268.9 C539.3,268.1 546.1,266.4 551.1,265.5 C556.1,264.6 559.9,263.9 566.2,263.3 C572.5,262.7 579.4,262.1 588.8,261.8 C598.2,261.5 617.1,261.4 622.8,261.3" fill="none" stroke="#22a74a" stroke-width="1.25" stroke-linejoin="round" stroke-linecap="round"/>
<path d="M365.5,232.5 C367.8,232.2 374.3,231.9 379.1,231.0 C383.9,230.1 389.2,228.8 394.2,227.0 C399.2,225.2 404.3,223.3 409.3,220.4 C414.3,217.5 420.1,213.0 424.4,209.7 C428.7,206.4 431.9,202.8 434.9,200.6 C437.9,198.4 440.0,197.3 442.5,196.4 C445.0,195.5 448.8,195.2 450.0,195.0" fill="none" stroke="#7030a0" stroke-width="1.25" stroke-linejoin="round" stroke-linecap="round"/>
<path d="M464.3,313.5 C466.2,313.3 472.5,313.3 475.6,312.5 C478.8,311.7 480.2,310.9 483.2,308.7 C486.2,306.5 489.9,302.7 493.7,299.3 C497.5,295.9 502.9,290.9 505.8,288.5 C508.7,286.1 509.2,285.9 511.0,285.0 C512.8,284.1 513.0,284.1 516.4,282.8 C519.8,281.5 528.2,278.3 531.5,277.1 C534.8,275.9 532.7,276.5 536.0,275.4 C539.3,274.3 546.1,271.9 551.1,270.4 C556.1,268.9 561.2,267.6 566.2,266.6 C571.2,265.6 575.0,264.9 581.3,264.3 C587.6,263.7 597.0,263.3 603.9,263.1 C610.8,262.9 619.6,263.1 622.8,263.1" fill="none" stroke="#7030a0" stroke-width="1.25" stroke-linejoin="round" stroke-linecap="round"/>
<path d="M365.5,228.4 C366.8,228.2 370.6,227.7 373.1,227.0 C375.6,226.3 378.1,225.9 380.6,224.0 C383.1,222.1 385.7,218.6 388.2,215.7 C390.7,212.8 393.4,209.5 395.7,206.6 C397.9,203.7 399.7,200.2 401.7,198.3 C403.7,196.4 405.3,195.7 407.8,194.9 C410.3,194.1 412.8,193.9 416.8,193.4 C420.8,192.9 426.4,192.3 431.9,191.8 C437.4,191.3 447.0,190.7 450.0,190.5" fill="none" stroke="#5b9bd5" stroke-width="1.25" stroke-linejoin="round" stroke-linecap="round"/>
<path d="M464.3,314.0 C467.9,313.8 480.3,313.2 486.2,312.9 C492.1,312.6 496.5,312.7 499.8,312.0 C503.1,311.3 503.0,310.8 505.8,308.7 C508.6,306.6 512.1,303.0 516.4,299.7 C520.7,296.4 528.2,291.1 531.5,288.8 C534.8,286.6 532.7,288.0 536.0,286.2 C539.3,284.4 546.1,280.2 551.1,277.9 C556.1,275.6 561.2,273.9 566.2,272.3 C571.2,270.7 576.3,269.2 581.3,268.1 C586.3,267.0 589.5,266.2 596.4,265.8 C603.3,265.4 618.4,265.5 622.8,265.4" fill="none" stroke="#5b9bd5" stroke-width="1.25" stroke-linejoin="round" stroke-linecap="round"/>
<line x1="44.2" y1="76.4" x2="299.8" y2="76.4" stroke="#d42a2a" stroke-width="1.4"/>
<line x1="372.6" y1="76.3" x2="623.7" y2="76.3" stroke="#d42a2a" stroke-width="1.4"/>
<line x1="39" y1="257.7" x2="125" y2="257.7" stroke="#c9585b" stroke-width="2"/>
<line x1="138.5" y1="257.7" x2="298.8" y2="257.7" stroke="#c9585b" stroke-width="2"/>
<line x1="126" y1="257.4" x2="135" y2="257.7" stroke="#5b9bd5" stroke-width="1.6"/>
<line x1="365.6" y1="257.6" x2="450.8" y2="257.6" stroke="#c9585b" stroke-width="2"/>
<line x1="464.3" y1="257.7" x2="622.8" y2="257.7" stroke="#c9585b" stroke-width="2"/>
<line x1="451.8" y1="257.2" x2="460.2" y2="257.5" stroke="#5b9bd5" stroke-width="1.6"/>
<line x1="129.2" y1="3.9" x2="129.2" y2="148.5" stroke="#ff1a1a" stroke-width="2" stroke-dasharray="4.3,1.6"/>
<line x1="139.7" y1="3.9" x2="139.7" y2="148.5" stroke="#ff1a1a" stroke-width="2" stroke-dasharray="4.3,1.6"/>
<line x1="456.3" y1="3.9" x2="456.3" y2="148.5" stroke="#ff1a1a" stroke-width="2" stroke-dasharray="4.3,1.6"/>
<line x1="466.9" y1="3.9" x2="466.9" y2="148.5" stroke="#ff1a1a" stroke-width="2" stroke-dasharray="4.3,1.6"/>
<line x1="125.1" y1="186.9" x2="125.1" y2="328.5" stroke="#ff1a1a" stroke-width="2" stroke-dasharray="4.3,1.6"/>
<line x1="135.9" y1="186.9" x2="135.9" y2="328.5" stroke="#ff1a1a" stroke-width="2" stroke-dasharray="4.3,1.6"/>
<line x1="450.7" y1="186.9" x2="450.7" y2="329.0" stroke="#ff1a1a" stroke-width="2" stroke-dasharray="4.3,1.6"/>
<line x1="461.3" y1="186.9" x2="461.3" y2="329.0" stroke="#ff1a1a" stroke-width="2" stroke-dasharray="4.3,1.6"/>
<line x1="139.5" y1="33.3" x2="160.5" y2="31.8" stroke="#b4b4b4" stroke-width="0.8"/>
<path d="M132.3,33.6 L136,31.8 L136,35.4 Z" fill="#000"/>
<line x1="467.6" y1="42.1" x2="483.9" y2="33.1" stroke="#b4b4b4" stroke-width="0.8"/>
<path d="M460.6,46.6 L463.0,43.3 L465.2,46.2 Z" fill="#000"/>
<line x1="131.6" y1="219.6" x2="145.4" y2="208.0" stroke="#b4b4b4" stroke-width="0.8"/>
<path d="M128.2,222.8 L129.9,219.6 L131.9,221.6 Z" fill="#000"/>
<line x1="459.2" y1="218.5" x2="468.6" y2="210.2" stroke="#b4b4b4" stroke-width="0.8"/>
<path d="M455.1,222.4 L456.6,218.9 L459.0,221.1 Z" fill="#000"/>
</svg></body></html>
